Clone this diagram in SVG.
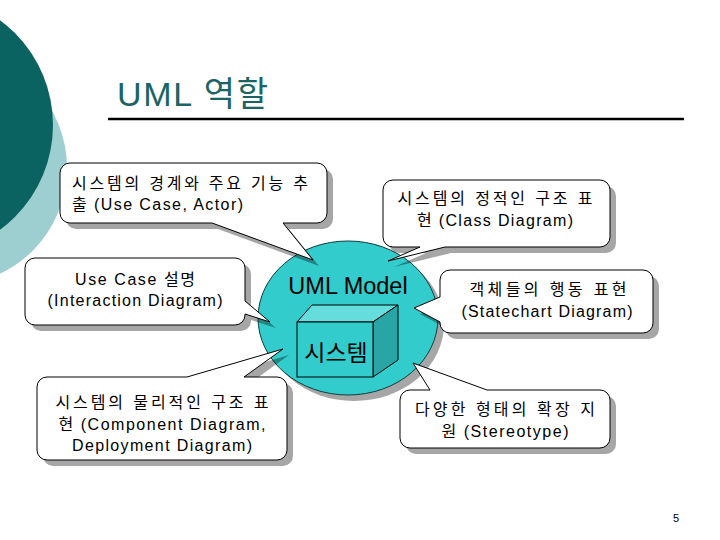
<svg xmlns="http://www.w3.org/2000/svg" width="720" height="540" viewBox="0 0 720 540">
<style>
.sh{fill:#000;opacity:.35}
.bub{fill:#fff;stroke:#000;stroke-width:1}
.t{font-family:"Liberation Sans","Noto Sans CJK KR",sans-serif;font-size:16px;fill:#000}
.m{text-anchor:middle}
</style>
<defs>
<path id="p1" d="M70,163 H317 A10,10 0 0 1 327,173 V213 A10,10 0 0 1 317,223 H283 L313,260 L212,223 H70 A10,10 0 0 1 60,213 V173 A10,10 0 0 1 70,163 Z"/>
<path id="p2" d="M393,180 H600 A10,10 0 0 1 610,190 V237 A10,10 0 0 1 600,247 H445 L388,261 L420,247 H393 A10,10 0 0 1 383,237 V190 A10,10 0 0 1 393,180 Z"/>
<path id="p3" d="M35,258 H235 A10,10 0 0 1 245,268 V301 L270,322 L245,314 V315 A10,10 0 0 1 235,325 H35 A10,10 0 0 1 25,315 V268 A10,10 0 0 1 35,258 Z"/>
<path id="p4" d="M450,270 H643 A10,10 0 0 1 653,280 V323 A10,10 0 0 1 643,333 H450 A10,10 0 0 1 440,323 V322 L414,308 L440,297 V280 A10,10 0 0 1 450,270 Z"/>
<path id="p5" d="M47,377 H187 L283,349 L244,377 H277 A10,10 0 0 1 287,387 V450 A10,10 0 0 1 277,460 H47 A10,10 0 0 1 37,450 V387 A10,10 0 0 1 47,377 Z"/>
<path id="p6" d="M410,390 H430 L413,363 L487,390 H600 A10,10 0 0 1 610,400 V438 A10,10 0 0 1 600,448 H410 A10,10 0 0 1 400,438 V400 A10,10 0 0 1 410,390 Z"/>
</defs>
<rect width="720" height="540" fill="#fff"/>
<g id="decor">
<circle cx="-50" cy="168" r="117" fill="#9ecfd0"/>
<circle cx="-77" cy="125" r="130" fill="#0b6361"/>
</g>
<g id="title">
<text x="117" y="106" font-family="Liberation Sans,'Noto Sans CJK KR',sans-serif" font-size="34" fill="#1a6464" textLength="151" lengthAdjust="spacing">UML 역할</text>
<line x1="108" y1="119" x2="684" y2="119" stroke="#000" stroke-width="2.5"/>
</g>
<g id="uml-model">
<ellipse cx="354" cy="324" rx="90" ry="77" class="sh"/>
<ellipse cx="348" cy="318" rx="90" ry="77" fill="#33cccc" stroke="#0d3d3d" stroke-width="1"/>
<text x="348" y="294" class="m" font-family="Liberation Sans,sans-serif" font-size="23.5" fill="#000">UML Model</text>
</g>
<g id="system">
<polygon points="297,322 312,305 398,305 373,322" fill="#66dddd" stroke="#000" stroke-width="1"/>
<polygon points="373,322 398,305 398,360 373,377" fill="#29a5a5" stroke="#000" stroke-width="1"/>
<rect x="297" y="322" width="76" height="55" fill="#33cccc" stroke="#000" stroke-width="1"/>
<text x="336" y="361" class="m" font-family="'Noto Sans CJK KR',sans-serif" font-size="23" fill="#000">시스템</text>
</g>
<g id="callout-usecase">
<use href="#p1" class="sh" transform="translate(6,6)"/>
<use href="#p1" class="bub"/>
<text class="t" x="72" y="189" textLength="236" lengthAdjust="spacing">시스템의 경계와 주요 기능 추</text>
<text class="t" x="72" y="210" textLength="171" lengthAdjust="spacing">출 (Use Case, Actor)</text>
</g>
<g id="callout-class">
<use href="#p2" class="sh" transform="translate(6,6)"/>
<use href="#p2" class="bub"/>
<text class="t m" x="495" y="204" textLength="195" lengthAdjust="spacing">시스템의 정적인 구조 표</text>
<text class="t m" x="495" y="226" textLength="156" lengthAdjust="spacing">현 (Class Diagram)</text>
</g>
<g id="callout-interaction">
<use href="#p3" class="sh" transform="translate(6,6)"/>
<use href="#p3" class="bub"/>
<text class="t m" x="135" y="285" textLength="120" lengthAdjust="spacing">Use Case 설명</text>
<text class="t m" x="135" y="306" textLength="175" lengthAdjust="spacing">(Interaction Diagram)</text>
</g>
<g id="callout-statechart">
<use href="#p4" class="sh" transform="translate(6,6)"/>
<use href="#p4" class="bub"/>
<text class="t m" x="548" y="295" textLength="157" lengthAdjust="spacing">객체들의 행동 표현</text>
<text class="t m" x="547" y="317" textLength="171" lengthAdjust="spacing">(Statechart Diagram)</text>
</g>
<g id="callout-component">
<use href="#p5" class="sh" transform="translate(6,6)"/>
<use href="#p5" class="bub"/>
<text class="t m" x="162" y="408" textLength="213" lengthAdjust="spacing">시스템의 물리적인 구조 표</text>
<text class="t m" x="162" y="430" textLength="207" lengthAdjust="spacing">현 (Component Diagram,</text>
<text class="t m" x="162" y="451" textLength="180" lengthAdjust="spacing">Deployment Diagram)</text>
</g>
<g id="callout-stereotype">
<use href="#p6" class="sh" transform="translate(6,6)"/>
<use href="#p6" class="bub"/>
<text class="t m" x="505" y="415" textLength="180" lengthAdjust="spacing">다양한 형태의 확장 지</text>
<text class="t m" x="505" y="437" textLength="127" lengthAdjust="spacing">원 (Stereotype)</text>
</g>
<g id="page-number">
<text x="673" y="522" font-family="Liberation Sans,sans-serif" font-size="11" fill="#000">5</text>
</g>
</svg>
